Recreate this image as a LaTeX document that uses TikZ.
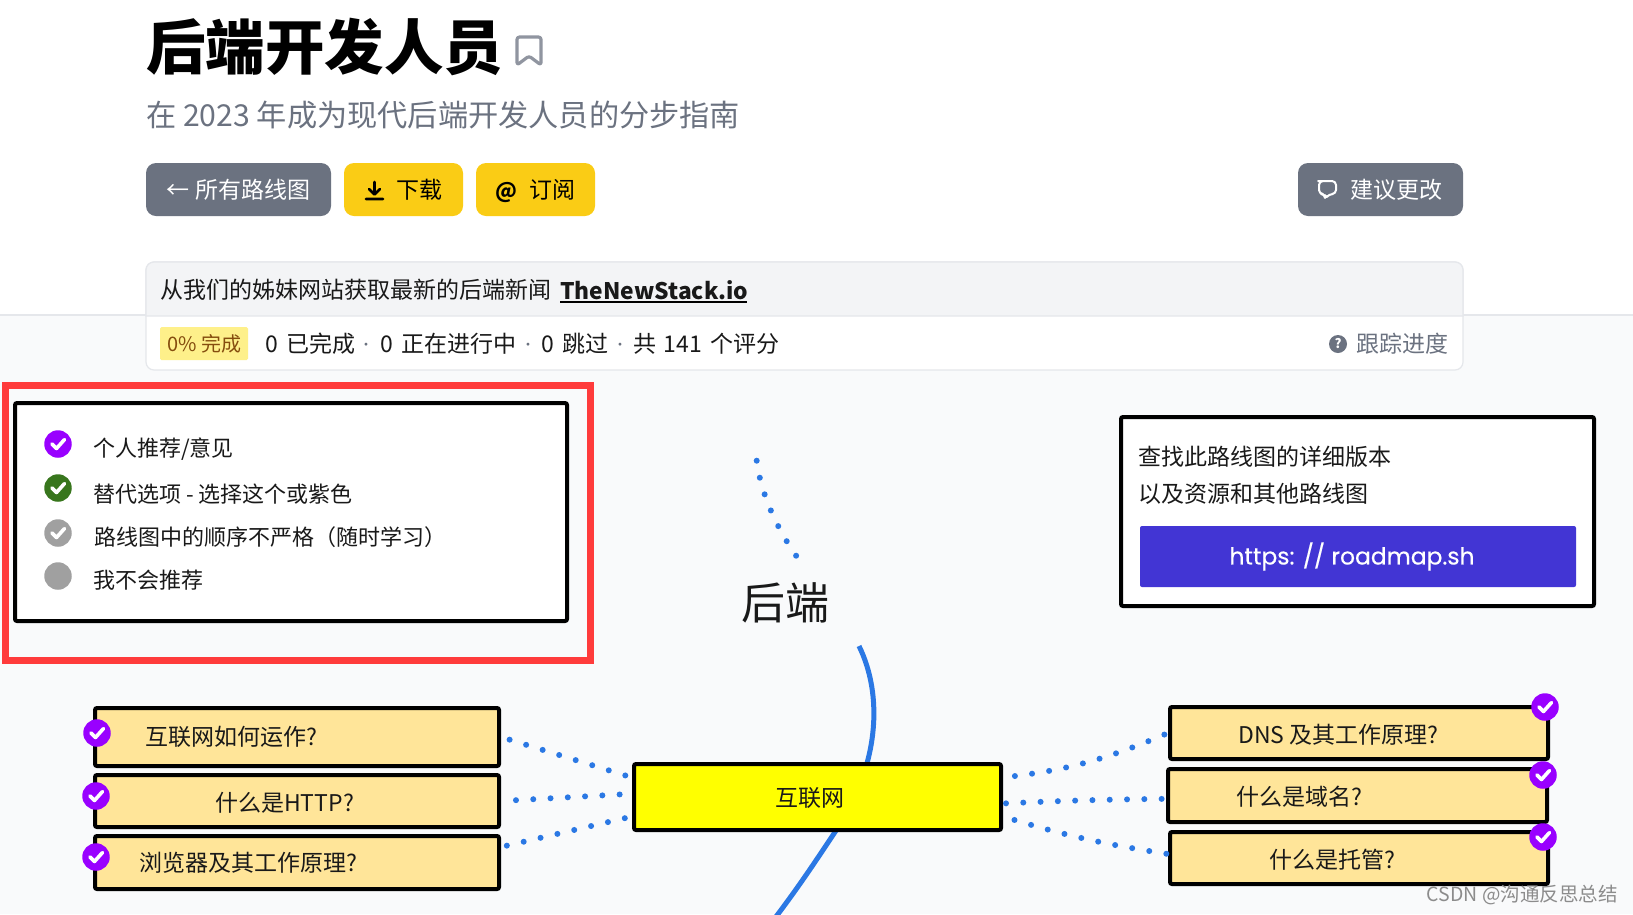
\documentclass[tikz,border=0pt]{standalone}
\usepackage{fontspec}
\setmainfont{Noto Sans CJK SC}
\newfontfamily\urlfont[FakeBold=0.4]{Poppins}
\newfontfamily\dotfont{Poppins}
\usetikzlibrary{calc}

\begin{document}
\begin{tikzpicture}[x=1pt,y=-1pt]

\definecolor{pagebg}{RGB}{249, 250, 251}
\definecolor{hairline}{RGB}{229, 231, 235}
\definecolor{headbg}{RGB}{243, 244, 246}
\definecolor{slategray}{RGB}{107, 114, 128}
\definecolor{btnyellow}{RGB}{250, 204, 21}
\definecolor{badgebg}{RGB}{254, 240, 138}
\definecolor{badgetext}{RGB}{133, 77, 14}
\definecolor{markred}{RGB}{255, 59, 59}
\definecolor{tickpurple}{RGB}{153, 0, 255}
\definecolor{tickgreen}{RGB}{56, 118, 29}
\definecolor{tickgray}{RGB}{160, 160, 160}
\definecolor{linkblue}{RGB}{43, 120, 228}
\definecolor{topicfill}{RGB}{255, 229, 153}
\definecolor{urlblue}{RGB}{66, 53, 212}
\definecolor{hubyellow}{RGB}{255, 255, 0}

\useasboundingbox (0,0) rectangle (1633,914);

% Fill background
\fill[white] (0,0) rectangle (1633,315);
\fill[pagebg] (0,315) rectangle (1633,914);
\draw[hairline, line width=1.2pt] (0,315) -- (1633,315);

\tikzset{
    size/.style={font=\fontsize{#1}{#1}\selectfont},
    btn/.style={
        rectangle, rounded corners=10pt, fill=#1, inner sep=0pt,
        minimum height=53pt, size=23, text height=20pt, text depth=3pt
    },
    panel/.style={
        draw=black, line width=4pt, fill=white, rectangle,
        rounded corners=2pt, inner sep=0pt
    },
    topic/.style={panel, fill=topicfill},
    label text/.style={size=23, inner sep=0pt, anchor=west, text=black!90},
    legend text/.style={label text, size=22},
    sep dot/.style={text=slategray, inner sep=0pt, font=\dotfont\fontsize{23}{23}\selectfont},
    tick dot/.style={circle, fill=#1, minimum size=27.5pt, inner sep=0pt},
    tick/.style={white, line width=3.6pt, line cap=round, line join=round},
    dotlink/.style={
        linkblue, line width=6pt, line cap=round,
        dash pattern=on 0pt off 17.3pt
    },
    icon/.style={line width=2.6pt, line cap=round, line join=round}
}

% Title
\node[font=\bfseries\fontsize{59.5}{60}\selectfont, inner sep=0pt, anchor=west] (title) at (146,47) {后端开发人员};
\draw[icon, draw=slategray!75, line width=3.2pt, rounded corners=2.5pt] (517,65) -- (517,37) -- (541,37) -- (541,65) -- (529,56) -- cycle;
\node[size=30.2, text=slategray, inner sep=0pt, anchor=west] (subtitle) at (146,115) {在 2023 年成为现代后端开发人员的分步指南};

% Buttons
\node[btn=slategray, minimum width=185pt, text=white] (allmaps) at (238.5,189.5) {← 所有路线图};
\node[btn=btnyellow, minimum width=119pt] (download) at (403.5,189.5) {\hspace*{32pt}下载};
\node[btn=btnyellow, minimum width=119pt] (subscribe) at (535.5,189.5) {\textbf{\fontsize{21}{21}\selectfont @}\hspace*{12pt}订阅};
\node[btn=slategray, minimum width=165pt, text=white] (suggest) at (1380.5,189.5) {\hspace*{32pt}建议更改};
\draw[icon, black] (374.5,182) -- (374.5,194) (369,189) -- (374.5,194.5) -- (380,189) (366,199) -- (383,199);
\draw[icon, white, line width=2pt, rounded corners=4pt] (1322,181) -- (1336,181) -- (1336,194) -- (1329,194) -- (1325,199) -- (1325,194) -- (1319,194) -- (1319,181) -- cycle;

% News card
\node[rectangle, draw=hairline, line width=1.2pt, fill=white, rounded corners=8pt, minimum width=1317pt, minimum height=108pt, inner sep=0pt] (card) at (804.5,316) {};
\fill[headbg] (146,316) [rounded corners=8pt] -- (146,262) -- (1463,262) [sharp corners] -- (1463,316) -- cycle;
\draw[hairline, line width=1.2pt] (146,316) [rounded corners=8pt] -- (146,262) -- (1463,262) [sharp corners] -- (1463,316) -- cycle;
\node[label text] (news) at (160,290) {从我们的姊妹网站获取最新的后端新闻};
\node[label text, font=\bfseries\fontsize{22.8}{23}\selectfont] (newslink) at (560,290) {TheNewStack.io};
\draw[black, line width=1.8pt] (560,302) -- (747,302);

% Progress row
\node[rectangle, fill=badgebg, rounded corners=1.5pt, minimum width=88pt, minimum height=33pt, inner sep=0pt, text=badgetext, size=20] (badge) at (204,343.5) {0\% 完成};
\node[label text] (done) at (265,344) {0\hspace{3pt} 已完成};
\node[sep dot] (sepa) at (366,347.5) {·};
\node[label text] (doing) at (380,344) {0\hspace{3pt} 正在进行中};
\node[sep dot] (sepb) at (528,347.5) {·};
\node[label text] (skipped) at (541,344) {0\hspace{3pt} 跳过};
\node[sep dot] (sepc) at (620,347.5) {·};
\node[label text] (total) at (633,344) {共\hspace{2.5pt} 141\hspace{3pt} 个评分};
\node[circle, fill=slategray, minimum size=18pt, inner sep=0pt, text=white, font=\bfseries\fontsize{13}{13}\selectfont] (helpicon) at (1338,344) {?};
\node[label text, text=slategray] (track) at (1356,344) {跟踪进度};

% Legend
\draw[markred, line width=7pt] (5.5,385) rectangle (590.5,660);
\node[panel, minimum width=552pt, minimum height=218pt] (legend) at (291,512) {};
\node[tick dot=tickpurple] (lega) at (58,444) {};
\node[tick dot=tickgreen] (legb) at (58,488) {};
\node[tick dot=tickgray] (legc) at (58,533) {};
\node[tick dot=tickgray] (legd) at (58,576) {};
\node[legend text] (lta) at (93,449) {个人推荐/意见};
\node[legend text] (ltb) at (93,494) {替代选项 - 选择这个或紫色};
\node[legend text] (ltc) at (94,537) {路线图中的顺序不严格（随时学习）};
\node[legend text] (ltd) at (93,580) {我不会推荐};

% Roadmap link box
\node[panel, minimum width=473pt, minimum height=189pt] (promo) at (1357.5,511.5) {};
\node[label text] (promoa) at (1138,457) {查找此路线图的详细版本};
\node[label text] (promob) at (1138,494) {以及资源和其他路线图};
\node[rectangle, fill=urlblue, rounded corners=2pt, minimum width=436pt, minimum height=61pt, inner sep=0pt, text=white, font=\urlfont\fontsize{23.4}{25}\selectfont] (urlbtn) at (1358,556.5) {https: // roadmap.sh\hspace*{12pt}};

% Spine
\node[size=44, inner sep=0pt, text=black!90] (backend) at (785,603) {后端};
\coordinate (topend) at (756.7,460.7);
\coordinate (dotend) at (797,557);
\coordinate (spinetop) at (859,646);
\coordinate (spinebot) at (775,918);
\draw[dotlink] (topend) .. controls (761,495) and (778,530) .. (dotend);
\draw[linkblue, line width=5pt] (spinetop) .. controls (883,695) and (880,765) .. (835,832) .. controls (817,859) and (800,885) .. (spinebot);

% Topics
\node[panel, fill=hubyellow, minimum width=367pt, minimum height=66pt] (hub) at (817.5,797) {};
\node[label text, anchor=center] (hubt) at (810,798) {互联网};

\node[topic, minimum width=404pt, minimum height=58pt] (L1) at (297,737) {};
\node[topic, minimum width=404pt, minimum height=52pt] (L2) at (297,801) {};
\node[topic, minimum width=404pt, minimum height=53pt] (L3) at (297,862.5) {};
\node[topic, minimum width=378pt, minimum height=52pt] (R1) at (1359,733) {};
\node[topic, minimum width=379pt, minimum height=53pt] (R2) at (1357.5,795.5) {};
\node[topic, minimum width=378pt, minimum height=52pt] (R3) at (1359,858) {};

\node[label text] (L1t) at (145,737) {互联网如何运作?};
\node[label text] (L2t) at (215,803) {什么是HTTP?};
\node[label text] (L3t) at (139,863) {浏览器及其工作原理?};
\node[label text] (R1t) at (1238,735) {DNS 及其工作原理?};
\node[label text] (R2t) at (1236,797) {什么是域名?};
\node[label text] (R3t) at (1269,860) {什么是托管?};

\node[tick dot=tickpurple] (L1c) at (97,733) {};
\node[tick dot=tickpurple] (L2c) at (96,796) {};
\node[tick dot=tickpurple] (L3c) at (96,857) {};
\node[tick dot=tickpurple] (R1c) at (1545,707) {};
\node[tick dot=tickpurple] (R2c) at (1543,775) {};
\node[tick dot=tickpurple] (R3c) at (1543,837) {};

% Check marks
\foreach \n in {lega,legb,legc,L1c,L2c,L3c,R1c,R2c,R3c}
    \draw[tick] ([shift={(-6,0)}]\n.center) -- ([shift={(-1.5,4.5)}]\n.center) -- ([shift={(6.5,-4.5)}]\n.center);

% Dotted links
\draw[dotlink, shorten <=9pt, shorten >=6pt] (L1.east) -- (hub.174);
\draw[dotlink, shorten <=15pt, shorten >=12pt] (L2.east) -- (hub.179);
\draw[dotlink, shorten <=6pt, shorten >=6pt] (L3.south east |- 0,847) -- (hub.186);
\draw[dotlink, shorten <=12pt, shorten >=2pt] (hub.6) to[bend right=8] (R1.west);
\draw[dotlink, shorten <=3pt, shorten >=1pt] (hub.358) to[bend left=1] (R2.181);
\draw[dotlink, shorten <=12pt, shorten >=0pt] (hub.354) to[bend right=4] (R3.south west |- 0,854);

% Watermark
\node[size=19.5, text=black!45, inner sep=0pt, anchor=east] (mark) at (1618,895) {CSDN @沟通反思总结};

\end{tikzpicture}
\end{document}
